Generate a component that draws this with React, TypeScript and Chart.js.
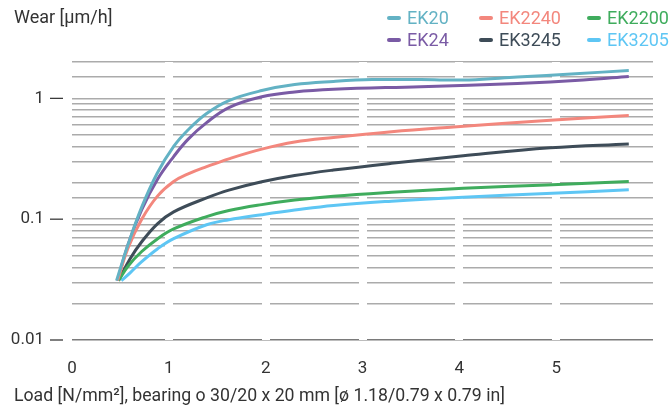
import React, { useEffect, useRef } from "react";
import { Chart, registerables } from "chart.js";

Chart.register(...registerables);

const FONT = "Roboto, 'Noto Sans', sans-serif";
const TEXT = "#333333";

const seriesNames = ["EK20", "EK2240", "EK2200", "EK24", "EK3245", "EK3205"];
const seriesColors = ["#63b2c4", "#f3877d", "#3fac5d", "#7a5ba5", "#3e4c58", "#5ec6f4"];

const ek20Load = [0.46, 0.58, 0.72, 0.88, 1.05, 1.2, 1.39, 1.62, 1.96, 2.3, 2.7, 3.1, 3.6, 4.1, 4.6, 5.2, 5.75];
const ek20Wear = [0.031, 0.062, 0.126, 0.24, 0.4, 0.55, 0.75, 0.96, 1.16, 1.3, 1.38, 1.43, 1.43, 1.42, 1.5, 1.6, 1.7];

const ek2240Load = [0.47, 0.58, 0.72, 0.885, 1.05, 1.2, 1.39, 1.62, 1.96, 2.3, 2.7, 3.3, 3.94, 4.94, 5.75];
const ek2240Wear = [0.031, 0.058, 0.1, 0.156, 0.205, 0.237, 0.272, 0.316, 0.38, 0.435, 0.475, 0.53, 0.58, 0.66, 0.72];

const ek2200Load = [0.48, 0.58, 0.72, 0.885, 1.05, 1.39, 1.62, 1.96, 2.3, 2.7, 3.3, 4.04, 4.9, 5.75];
const ek2200Wear = [0.031, 0.041, 0.054, 0.069, 0.083, 0.105, 0.118, 0.132, 0.144, 0.155, 0.167, 0.18, 0.192, 0.205];

const ek24Load = [0.47, 0.58, 0.72, 0.885, 1.05, 1.2, 1.39, 1.62, 1.96, 2.3, 2.7, 3.6, 4.6, 5.28, 5.75];
const ek24Wear = [0.031, 0.062, 0.12, 0.215, 0.33, 0.46, 0.63, 0.84, 1.03, 1.13, 1.19, 1.25, 1.33, 1.42, 1.52];

const ek3245Load = [0.48, 0.6, 0.72, 0.885, 1.05, 1.39, 1.62, 1.96, 2.3, 2.7, 3.3, 4.04, 4.94, 5.75];
const ek3245Wear = [0.031, 0.047, 0.065, 0.092, 0.115, 0.15, 0.174, 0.204, 0.23, 0.255, 0.29, 0.335, 0.39, 0.42];

const ek3205Load = [0.51, 0.6, 0.72, 0.885, 1.05, 1.39, 1.62, 1.96, 2.3, 2.7, 3.3, 4.04, 4.9, 5.75];
const ek3205Wear = [0.031, 0.036, 0.0445, 0.057, 0.069, 0.09, 0.099, 0.109, 0.119, 0.13, 0.141, 0.152, 0.163, 0.175];

const seriesLoads = [ek20Load, ek2240Load, ek2200Load, ek24Load, ek3245Load, ek3205Load];
const seriesWears = [ek20Wear, ek2240Wear, ek2200Wear, ek24Wear, ek3245Wear, ek3205Wear];

const xMin = 0;
const xMax = 6;
const xLabelValues = [0, 1, 2, 3, 4, 5];
const yMin = 0.01;
const yMax = 2;
const yLabelValues = [0.01, 0.1, 1];
const yLabelTexts = ["0.01", "0.1", "1"];

const yTitle = "Wear [μm/h]";
const xTitle = "Load [N/mm²], bearing o 30/20 x 20 mm [ø 1.18/0.79 x 0.79 in]";

const near = (a: number, b: number) => Math.abs(a - b) < b * 1e-6 + 1e-9;

const tickDashPlugin = {
  id: "tickDash",
  afterDraw(chart: any) {
    const { ctx, chartArea, scales } = chart;
    const y = scales.y;
    ctx.save();
    ctx.strokeStyle = "#3a3a3a";
    ctx.lineWidth = 1.3;
    yLabelValues.forEach((v) => {
      const py = y.getPixelForValue(v);
      ctx.beginPath();
      ctx.moveTo(chartArea.left - 22, py);
      ctx.lineTo(chartArea.left - 9, py);
      ctx.stroke();
    });
    ctx.restore();
  },
};

export default function App() {
  const ref = useRef<HTMLCanvasElement | null>(null);

  useEffect(() => {
    document.body.style.margin = "0";
    if (!ref.current) return;
    const datasets = seriesNames.map((name, i) => ({
      label: name,
      data: seriesLoads[i].map((x, j) => ({ x, y: seriesWears[i][j] })),
      borderColor: seriesColors[i],
      backgroundColor: seriesColors[i],
      borderWidth: 3,
      pointRadius: 0,
      tension: 0.4,
      fill: false,
    }));
    const chart = new Chart(ref.current, {
      type: "line",
      data: { datasets },
      options: {
        animation: false,
        responsive: true,
        maintainAspectRatio: false,
        layout: { padding: { top: 62, right: 2, left: 0, bottom: 0 } },
        plugins: { legend: { display: false }, tooltip: { enabled: false } },
        scales: {
          x: {
            type: "linear",
            min: xMin,
            max: xMax,
            afterFit: (s: any) => {
              s.height = 68;
            },
            border: { display: false },
            grid: {
              z: -1,
              drawTicks: false,
              lineWidth: 8,
              color: (c: any) =>
                c.tick && (c.tick.value === xMin || c.tick.value === xMax) ? "rgba(0,0,0,0)" : "#ffffff",
            },
            ticks: {
              stepSize: 1,
              padding: 19,
              color: TEXT,
              font: { family: FONT, size: 17 },
              callback: (v: any) => (xLabelValues.includes(Number(v)) ? String(v) : ""),
            },
          },
          y: {
            type: "logarithmic",
            min: yMin,
            max: yMax,
            afterFit: (s: any) => {
              s.width = 72;
            },
            border: { display: false },
            grid: {
              z: -2,
              drawTicks: false,
              lineWidth: 1.4,
              color: (c: any) => (c.tick && near(c.tick.value, yMin) ? "#7a7a7a" : "#ababab"),
            },
            ticks: {
              autoSkip: false,
              padding: 28,
              color: TEXT,
              font: { family: FONT, size: 17 },
              callback: (v: any) => {
                const idx = yLabelValues.findIndex((t) => near(Number(v), t));
                return idx >= 0 ? yLabelTexts[idx] : "";
              },
            },
          },
        },
      },
      plugins: [tickDashPlugin],
    });
    return () => chart.destroy();
  }, []);

  const textStyle: React.CSSProperties = {
    position: "absolute",
    fontFamily: FONT,
    lineHeight: "20px",
    color: TEXT,
    whiteSpace: "nowrap",
  };

  return (
    <div style={{ position: "relative", width: 672, height: 408, overflow: "hidden", background: "#fff" }}>
      <canvas ref={ref} />
      <div style={{ ...textStyle, fontSize: 18, left: 14, top: 7 }}>{yTitle}</div>
      <div style={{ ...textStyle, fontSize: 17.7, left: 14, top: 385 }}>{xTitle}</div>
      <div
        style={{
          position: "absolute",
          left: 387,
          top: 8,
          display: "grid",
          gridTemplateColumns: "92px 108px auto",
          rowGap: 2,
        }}
      >
        {seriesNames.map((name, i) => (
          <div key={name} style={{ display: "flex", alignItems: "center", height: 20 }}>
            <span
              style={{
                display: "inline-block",
                width: 14,
                height: 4,
                borderRadius: 2,
                background: seriesColors[i],
                marginRight: 6,
              }}
            />
            <span style={{ fontFamily: FONT, fontSize: 18, lineHeight: "20px", color: seriesColors[i] }}>{name}</span>
          </div>
        ))}
      </div>
    </div>
  );
}
